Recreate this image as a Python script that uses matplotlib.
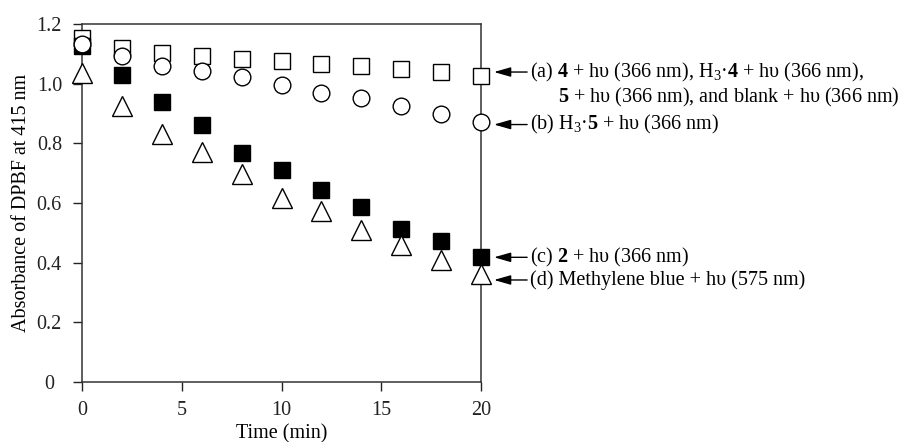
import matplotlib
matplotlib.use("Agg")
import matplotlib.pyplot as plt

plt.rcParams['font.family'] = ['Liberation Serif', 'DejaVu Serif']
plt.rcParams['mathtext.fontset'] = 'custom'
plt.rcParams['mathtext.rm'] = 'Liberation Serif'
plt.rcParams['mathtext.bf'] = 'Liberation Serif:bold'
plt.rcParams['mathtext.it'] = 'Liberation Serif:italic'

# data
time_min = [0, 2, 4, 6, 8, 10, 12, 14, 16, 18, 20]
abs_a = [1.153, 1.119, 1.104, 1.094, 1.083, 1.077, 1.066, 1.059, 1.048, 1.040, 1.026]
abs_b = [1.133, 1.093, 1.060, 1.044, 1.024, 0.996, 0.970, 0.953, 0.925, 0.897, 0.873]
abs_c = [1.126, 1.029, 0.939, 0.861, 0.769, 0.712, 0.643, 0.586, 0.514, 0.474, 0.418]
abs_d = [1.037, 0.925, 0.832, 0.771, 0.696, 0.616, 0.574, 0.511, 0.458, 0.409, 0.362]

labels = [
    r"(a) $\mathbf{4}$ + hυ (366 nm), H$_3$·$\mathbf{4}$ + hυ (366 nm),",
    r"(b) H$_3$·$\mathbf{5}$ + hυ (366 nm)",
    r"(c) $\mathbf{2}$ + hυ (366 nm)",
    r"(d) Methylene blue + hυ (575 nm)",
]
label_a2 = r"$\mathbf{5}$ + hυ (366 nm), and blank + hυ (366 nm)"

FS = 14.5

fig = plt.figure(figsize=(9.03, 4.42), dpi=100)
ax = fig.add_axes([0.0908, 0.1357, 0.4419, 0.81])

ax.plot(time_min, abs_a, ls='none', marker='s', ms=12, mfc='white', mec='black', mew=1.0, zorder=3, clip_on=False)
ax.plot(time_min, abs_c, ls='none', marker='s', ms=11.5, mfc='black', mec='black', mew=1.0, zorder=4, clip_on=False)
ax.plot(time_min, abs_d, ls='none', marker='^', ms=14, mfc='white', mec='black', mew=1.0, zorder=5, clip_on=False)
ax.plot(time_min, abs_b, ls='none', marker='o', ms=12, mfc='white', mec='black', mew=1.0, zorder=6, clip_on=False)

ax.set_xlim(0, 20)
ax.set_ylim(0, 1.2)
ax.set_xticks([0, 5, 10, 15, 20])
ax.set_yticks([0, 0.2, 0.4, 0.6, 0.8, 1.0, 1.2])
ax.set_yticklabels(['0', '0.2', '0.4', '0.6', '0.8', '1.0', '1.2'], ha='center')
ax.tick_params(axis='both', direction='out', length=6.5, width=1, labelsize=FS, colors='#222222')
ax.tick_params(axis='y', pad=17)
ax.tick_params(axis='x', pad=7)
for s in ax.spines.values():
    s.set_linewidth(1.1)
    s.set_color('#333333')

ax.set_xlabel('Time (min)', fontsize=FS, labelpad=3)
ax.set_ylabel('Absorbance of DPBF at 415 nm', fontsize=FS, labelpad=4)

# arrows + labels on the right
last_vals = [abs_a[-1], abs_b[-1], abs_c[-1], abs_d[-1]]
nudges = [0.013, -0.01, 0.0, -0.02]
for lab, v, dv in zip(labels, last_vals, nudges):
    y = v + dv
    ax.annotate(lab, xy=(20.65, y), xytext=(22.45, y), xycoords='data', textcoords='data',
                ha='left', va='center', fontsize=FS, annotation_clip=False,
                arrowprops=dict(arrowstyle='-|>,head_length=0.7,head_width=0.2',
                                color='black', lw=1.0, shrinkA=0, shrinkB=0))
ax.text(23.85, abs_a[-1] + 0.013 - 0.084, label_a2, ha='left', va='center',
        fontsize=FS, clip_on=False)

fig.savefig('out.png', dpi=100)
